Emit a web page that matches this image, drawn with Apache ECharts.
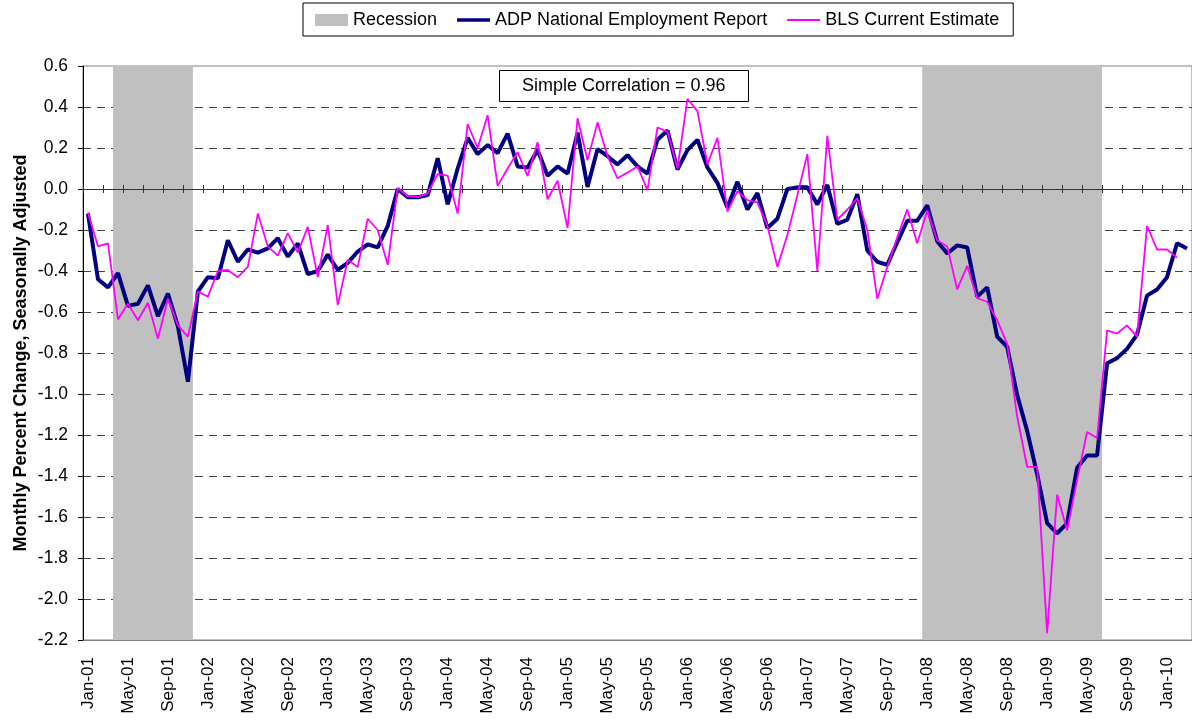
<!DOCTYPE html>
<html>
<head>
<meta charset="utf-8">
<script src="https://cdn.jsdelivr.net/npm/echarts@6/dist/echarts.min.js"></script>
<style>
  html, body { margin: 0; padding: 0; background: #fff; }
  #chart { width: 1192px; height: 721px; }
</style>
</head>
<body>
<div id="chart"></div>
<script>
// month labels Jan-01 .. Mar-10
const monthNames = ['Jan', 'Feb', 'Mar', 'Apr', 'May', 'Jun', 'Jul', 'Aug', 'Sep', 'Oct', 'Nov', 'Dec'];
const Data_Months = [];
for (let y = 1; y <= 10; y++) {
  for (let m = 0; m < 12; m++) {
    if (y === 10 && m > 2) break;
    Data_Months.push(monthNames[m] + '-' + String(y).padStart(2, '0'));
  }
}

// ADP National Employment Report, monthly % change
const Data_ADP = [
  -0.12, -0.44, -0.48, -0.41, -0.57, -0.56, -0.47, -0.62, -0.51, -0.67, -0.94, -0.50,
  -0.43, -0.435, -0.25, -0.355, -0.295, -0.31, -0.29, -0.24, -0.33, -0.265, -0.415, -0.40,
  -0.32, -0.395, -0.36, -0.305, -0.27, -0.285, -0.18, 0.00, -0.04, -0.04, -0.03, 0.15,
  -0.075, 0.10, 0.25, 0.17, 0.215, 0.175, 0.27, 0.11, 0.105, 0.19, 0.065, 0.11,
  0.075, 0.275, 0.01, 0.195, 0.16, 0.12, 0.165, 0.11, 0.075, 0.24, 0.285, 0.095,
  0.19, 0.24, 0.105, 0.03, -0.09, 0.035, -0.10, -0.02, -0.19, -0.145, 0.00, 0.008,
  0.008, -0.075, 0.02, -0.17, -0.15, -0.025, -0.30, -0.355, -0.37, -0.26, -0.155, -0.155,
  -0.08, -0.255, -0.315, -0.275, -0.285, -0.525, -0.48, -0.72, -0.77, -1.005, -1.18, -1.39,
  -1.63, -1.68, -1.63, -1.36, -1.30, -1.30, -0.85, -0.825, -0.78, -0.71, -0.52, -0.49,
  -0.43, -0.265, -0.29
];

// BLS Current Estimate, monthly % change
const Data_BLS = [
  -0.115, -0.28, -0.265, -0.635, -0.56, -0.64, -0.555, -0.73, -0.535, -0.665, -0.72, -0.50,
  -0.525, -0.40, -0.395, -0.43, -0.38, -0.12, -0.28, -0.325, -0.215, -0.31, -0.185, -0.43,
  -0.175, -0.565, -0.345, -0.38, -0.145, -0.20, -0.37, 0.005, -0.035, -0.04, -0.02, 0.073,
  0.065, -0.12, 0.317, 0.20, 0.36, 0.015, 0.10, 0.18, 0.063, 0.228, -0.05, 0.04,
  -0.19, 0.345, 0.14, 0.325, 0.16, 0.052, 0.08, 0.11, -0.005, 0.30, 0.28, 0.10,
  0.44, 0.38, 0.12, 0.25, -0.11, -0.01, -0.054, -0.065, -0.18, -0.38, -0.225, -0.03,
  0.17, -0.40, 0.26, -0.15, -0.10, -0.045, -0.20, -0.535, -0.38, -0.235, -0.10, -0.265,
  -0.105, -0.25, -0.28, -0.49, -0.375, -0.533, -0.55, -0.64, -0.755, -1.11, -1.355, -1.355,
  -2.167, -1.49, -1.665, -1.42, -1.185, -1.215, -0.69, -0.705, -0.665, -0.72, -0.18, -0.295,
  -0.295, -0.335
];

// recession periods (first and last shaded month)
const Data_Recessions = [['Apr-01', 'Nov-01'], ['Jan-08', 'Jun-09']];

const Y_Ticks = { min: -2.2, max: 0.6, interval: 0.2 };

function renderChart() {
  const dom = document.getElementById('chart');
  const chart = echarts.init(dom);
  const font = '"Liberation Sans", Arial, sans-serif';

  const recessionData = Data_Recessions.map(function (p) {
    return [Data_Months.indexOf(p[0]), Data_Months.indexOf(p[1])];
  });

  // the category axis that sits on the 0.0 line (ticks only)
  const zeroAxis = function (inside) {
    return {
      type: 'category',
      data: Data_Months,
      position: 'bottom',
      boundaryGap: true,
      z: 4,
      axisLine: { onZero: true, onZeroAxisIndex: 0, lineStyle: { color: '#333', width: 1 } },
      axisTick: { show: true, inside: inside, length: 4, interval: 1, lineStyle: { color: '#333' } },
      axisLabel: { show: false },
      splitLine: { show: false }
    };
  };

  const option = {
    animation: false,
    textStyle: { fontFamily: font },
    grid: {
      left: 83,
      top: 66,
      width: 1110,
      height: 574,
      show: true,
      borderColor: '#808080',
      borderWidth: 1
    },
    title: {
      text: 'Simple Correlation = 0.96',
      left: 499,
      top: 70,
      z: 1,
      padding: [7, 23],
      borderColor: '#000',
      borderWidth: 1,
      backgroundColor: '#fff',
      textStyle: { fontFamily: font, fontSize: 18, fontWeight: 'normal', color: '#000' }
    },
    legend: {
      left: 303,
      top: 3,
      padding: [8, 14, 7, 12],
      itemGap: 20,
      itemWidth: 33,
      itemHeight: 12,
      borderColor: '#000',
      borderWidth: 1,
      textStyle: { fontFamily: font, fontSize: 18, color: '#000' },
      data: [
        { name: 'Recession', icon: 'rect' },
        { name: 'ADP National Employment Report', icon: 'path://M0,0H36V4H0Z' },
        { name: 'BLS Current Estimate', icon: 'path://M0,0H33V2H0Z' }
      ]
    },
    graphic: [
      {
        type: 'text',
        x: 21,
        y: 353,
        rotation: Math.PI / 2,
        style: {
          text: 'Monthly Percent Change, Seasonally Adjusted',
          fontFamily: font,
          fontSize: 18,
          fontWeight: 'bold',
          fill: '#000',
          align: 'center',
          verticalAlign: 'middle'
        }
      }
    ],
    xAxis: [
      {
        type: 'category',
        data: Data_Months,
        position: 'bottom',
        boundaryGap: true,
        axisLine: { onZero: false, lineStyle: { color: '#808080' } },
        axisTick: { show: false },
        axisLabel: {
          interval: 3,
          rotate: 90,
          margin: 17,
          fontSize: 17,
          color: '#000',
          fontFamily: font
        },
        splitLine: { show: false }
      },
      zeroAxis(false),
      zeroAxis(true)
    ],
    yAxis: [
      {
        type: 'value',
        min: Y_Ticks.min,
        max: Y_Ticks.max,
        interval: Y_Ticks.interval,
        axisLine: { show: true, onZero: false, lineStyle: { color: '#000' } },
        axisTick: { show: true, length: 5, lineStyle: { color: '#000' } },
        axisLabel: {
          fontSize: 17.5,
          color: '#000',
          margin: 15,
          fontFamily: font,
          formatter: function (v) { return v.toFixed(1); }
        },
        splitLine: {
          show: true,
          showMinLine: false,
          showMaxLine: false,
          lineStyle: { color: '#444', type: [8, 6], width: 1 }
        }
      }
    ],
    series: [
      {
        name: 'Recession',
        type: 'custom',
        xAxisIndex: 0,
        yAxisIndex: 0,
        data: recessionData,
        encode: { x: [0, 1] },
        itemStyle: { color: '#C0C0C0' },
        silent: true,
        z: 2,
        renderItem: function (params, api) {
          const band = api.size([1, 0])[0];
          const x0 = api.coord([api.value(0), 0])[0] - band / 2;
          const x1 = api.coord([api.value(1), 0])[0] + band / 2;
          const cs = params.coordSys;
          return {
            type: 'rect',
            shape: { x: x0, y: cs.y, width: x1 - x0, height: cs.height },
            style: { fill: '#C0C0C0' }
          };
        }
      },
      {
        name: 'ADP National Employment Report',
        type: 'line',
        xAxisIndex: 0,
        yAxisIndex: 0,
        data: Data_ADP,
        symbol: 'none',
        lineStyle: { color: '#000080', width: 4 },
        itemStyle: { color: '#000080' },
        z: 5
      },
      {
        name: 'BLS Current Estimate',
        type: 'line',
        xAxisIndex: 0,
        yAxisIndex: 0,
        data: Data_BLS,
        symbol: 'none',
        lineStyle: { color: '#FF00FF', width: 1.8 },
        itemStyle: { color: '#FF00FF' },
        z: 6
      }
    ]
  };
  chart.setOption(option, true);
}
renderChart();
</script>
</body>
</html>
